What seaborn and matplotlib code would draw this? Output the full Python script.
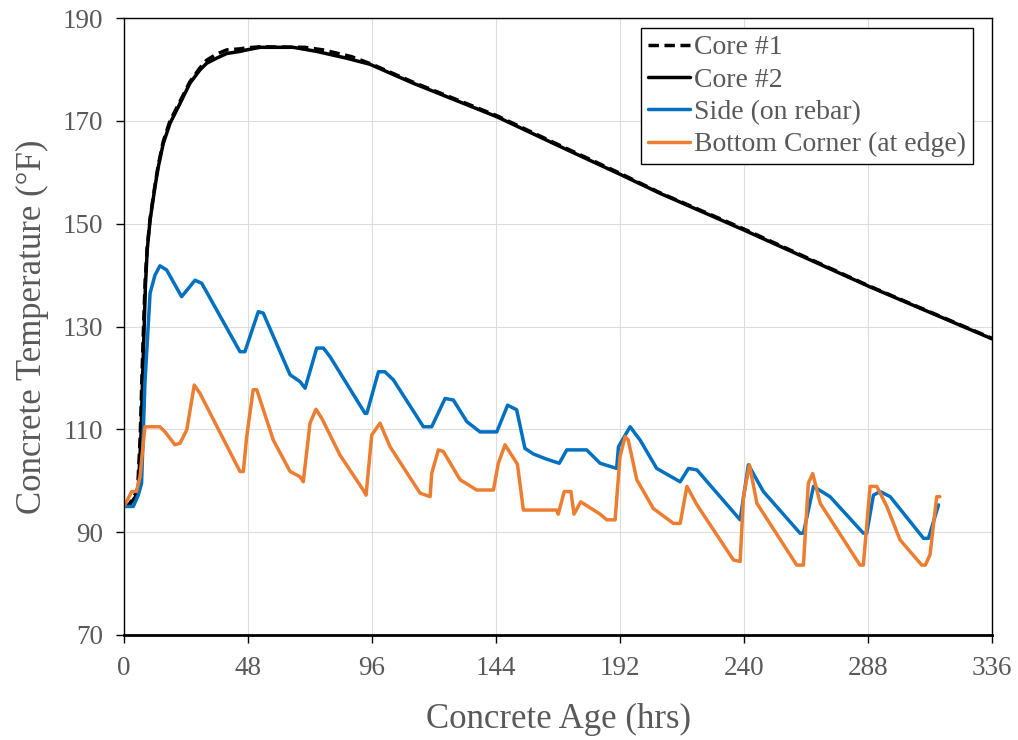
import matplotlib
matplotlib.use("Agg")
import matplotlib.pyplot as plt
import seaborn as sns

# Concrete age (hrs) and temperature (°F) readings per sensor
core1_hours = [0, 2, 4, 5.3, 6.3, 7.3, 8.2, 9, 10.1, 12, 13.3, 15.2, 17.8, 21.7, 25.5,
               29.4, 32, 35.9, 39.8, 44.9, 47.5, 52.7, 70, 77, 88, 96, 112, 144.3,
               170.1, 192, 207.5, 239.8, 288.8, 336]
core1_temp = [95, 95.4, 97, 98.5, 109, 126, 139, 145.5, 151, 157.5, 161.5, 166, 170,
              173.8, 177.6, 180.3, 181.8, 183.0, 183.8, 184.0, 184.2, 184.4, 184.3,
              183.8, 182.5, 181.0, 177.5, 171.0, 164.9, 159.8, 156.0, 149.0, 137.8, 127.7]

core2_hours = [0, 2, 4.3, 5.5, 6.5, 7.5, 8.3, 9, 10.1, 12, 13.3, 15.2, 17.8, 21.7, 25.5,
               29.4, 32, 35.9, 39.8, 44.9, 47.5, 52.7, 65.5, 74.6, 86, 95.2, 112, 144.3,
               170.1, 192, 207.5, 239.8, 288.8, 336]
core2_temp = [95, 95.2, 96.8, 98.2, 108, 125, 138, 145, 150.7, 157.2, 161.1, 165.6, 169.5,
              173.4, 177.3, 179.9, 181.2, 182.2, 183.1, 183.5, 183.8, 184.3, 184.3, 183.5,
              182.2, 181.0, 177.3, 170.8, 164.7, 159.6, 155.9, 148.8, 137.7, 127.6]

side_hours = [0, 3.6, 5.5, 6.8, 8.1, 10.1, 12, 13.9, 16.5, 22.3, 27.5, 30.1, 44.9, 46.8,
              52, 53.9, 64.3, 68.1, 70.1, 74.6, 77.2, 79.8, 93.3, 94, 98.5, 101, 104.3,
              115.9, 119.1, 124.3, 127.5, 132.7, 137.8, 144.3, 148.5, 152, 155.2, 158.5,
              163.6, 168.5, 171.4, 179.1, 184.3, 190.7, 191.4, 195.9, 199.8, 206.2, 215.3,
              218.5, 221.8, 238.5, 241.7, 247.5, 261.7, 263, 266.9, 273.3, 286.2, 287.5,
              290.1, 292.7, 296.6, 309.5, 311.4, 315.3]
side_temp = [95, 95, 97.2, 99.5, 119, 136.5, 140, 141.8, 141, 135.8, 139, 138.4, 125.1,
             125.1, 132.9, 132.6, 120.6, 119.3, 118, 125.8, 125.8, 124.1, 113.1, 113.1,
             121.2, 121.2, 119.6, 110.5, 110.5, 116, 115.7, 111.5, 109.5, 109.5, 114.7,
             113.8, 106.3, 105.2, 104.2, 103.4, 106, 106, 103.4, 102.4, 106.6, 110.5,
             107.9, 102.4, 99.8, 102.4, 102.1, 92.4, 103.1, 97.9, 89.8, 89.8, 98.9, 96.9,
             89.8, 89.8, 97.2, 97.9, 96.9, 88.8, 88.8, 95.3]

bottom_hours = [0, 3, 4.8, 6.2, 8.1, 13.9, 15.9, 19.7, 21.7, 24.3, 27.2, 29.4, 44.9, 46.2,
                47.5, 50, 51.4, 57.8, 64.3, 68.1, 69.4, 72, 74.3, 76.5, 83.6, 92.6, 93.7,
                95.9, 99.1, 103, 114.6, 118.5, 119.1, 121.7, 123.6, 130.1, 136.5, 143,
                144.9, 147.5, 152.3, 154.6, 167.5, 168.1, 170.4, 173.0, 174.2, 176.8, 184.3,
                186.9, 190.1, 192, 194, 195.2, 198.5, 204.9, 212.7, 215.3, 217.9, 221.8,
                235.9, 238.5, 239.8, 242.1, 245, 260.4, 263, 264.9, 266.6, 269.5, 284.9,
                286.2, 288.8, 291.4, 295.3, 300.4, 308.8, 310.2, 312, 314.6, 315.8]
bottom_temp = [95, 97.9, 97.9, 100.8, 110.5, 110.5, 109.5, 107, 107.3, 109.9, 118.6, 117,
               101.8, 101.8, 108.6, 117.7, 117.7, 107.9, 101.8, 100.8, 99.8, 111.2, 113.9,
               112.2, 105, 98.2, 97.2, 108.9, 111.2, 106.6, 97.6, 96.9, 101.4, 106, 105.7,
               100.2, 98.2, 98.2, 103.4, 107, 103.2, 94.3, 94.3, 93.5, 97.9, 97.9, 93.5,
               95.9, 93.5, 92.4, 92.4, 104.7, 108.6, 107.9, 100.2, 94.6, 91.7, 91.7, 98.9,
               95.3, 84.6, 84.3, 96.9, 103.1, 95.6, 83.6, 83.6, 99.5, 101.4, 95.6, 83.6,
               83.6, 98.9, 98.9, 95, 88.5, 83.6, 83.6, 85.6, 96.9, 96.9]

x_ticks = [0, 48, 96, 144, 192, 240, 288, 336]
y_ticks = [70, 90, 110, 130, 150, 170, 190]

TEXT = "#595959"
BLUE = "#0070C0"
ORANGE = "#ED7D31"

sns.set_theme(style="white")
plt.rcParams["font.family"] = ["Liberation Serif", "DejaVu Serif"]

fig = plt.figure(figsize=(10.18, 7.40), dpi=100)
ax = fig.add_axes([124 / 1018, 1 - 635 / 740, 868 / 1018, 617 / 740])

lw = 2.5
sns.lineplot(x=core1_hours, y=core1_temp, ax=ax, color="black", lw=lw,
             linestyle=(0, (3, 1.6)), sort=False, estimator=None, label="Core #1")
sns.lineplot(x=core2_hours, y=core2_temp, ax=ax, color="black", lw=lw,
             sort=False, estimator=None, label="Core #2")
sns.lineplot(x=side_hours, y=side_temp, ax=ax, color=BLUE, lw=lw,
             sort=False, estimator=None, label="Side (on rebar)")
sns.lineplot(x=bottom_hours, y=bottom_temp, ax=ax, color=ORANGE, lw=lw,
             sort=False, estimator=None, label="Bottom Corner (at edge)")

ax.set_xlim(0, 336)
ax.set_ylim(70, 190)
ax.set_xticks(x_ticks)
ax.set_yticks(y_ticks)
ax.grid(True, color="#DDDDDD", lw=0.8)
ax.set_axisbelow(True)

for side in ["left", "right", "top"]:
    ax.spines[side].set_color("black")
    ax.spines[side].set_linewidth(1.0)
ax.spines["bottom"].set_color("black")
ax.spines["bottom"].set_linewidth(2.0)

ax.tick_params(axis="both", direction="out", length=6, width=1, color="black",
               labelsize=19.5, labelcolor=TEXT, pad=9, bottom=True, left=True)

ax.set_xlabel("Concrete Age (hrs)", fontsize=25, color=TEXT, labelpad=16)
ax.set_ylabel("Concrete Temperature (°F)", fontsize=25, color=TEXT, labelpad=10)

leg = ax.legend(loc="upper right", bbox_to_anchor=(0.978, 0.984), borderaxespad=0,
                fontsize=20, labelcolor=TEXT, frameon=True, fancybox=False,
                edgecolor="black", framealpha=1, handlelength=1.5,
                handletextpad=0.15, labelspacing=0.25, borderpad=0.25)
leg.get_frame().set_linewidth(1.0)

fig.savefig("out.png", dpi=100)
